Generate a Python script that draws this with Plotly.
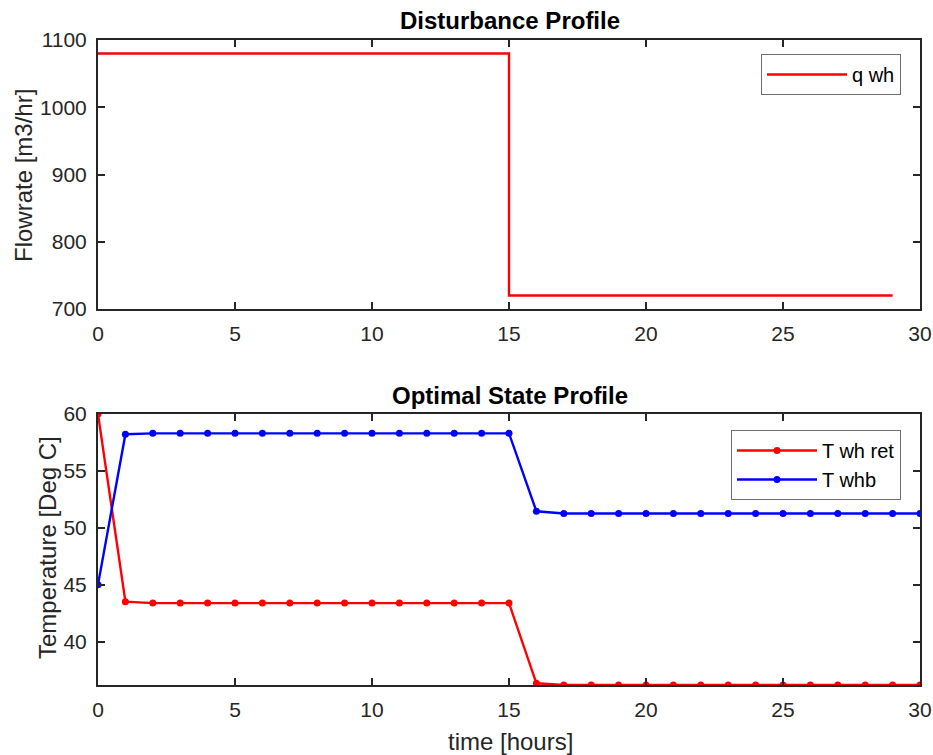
import plotly.graph_objects as go

# Disturbance: water flowrate step (stairs)
t_dist = list(range(0, 30))
q_wh = [1080] * 15 + [720] * 15

# Optimal state trajectories
t_state = list(range(0, 31))
T_wh_ret = [60.0, 43.5] + [43.38] * 14 + [36.33] + [36.18] * 14
T_whb = [45.0, 58.22] + [58.3] * 14 + [51.45] + [51.25] * 14

FONT = "Liberation Sans, Arial, sans-serif"
INK = "#262626"
W, H = 933, 755
ML, MR = 98, 13


def px_x(p):
    return (p - ML) / (W - ML - MR)


def px_y(p):
    return 1 - p / H


fig = go.Figure()

fig.add_trace(go.Scatter(
    x=t_dist, y=q_wh, mode="lines", line=dict(color="#ff0000", width=2.4, shape="hv"),
    name="q wh", xaxis="x", yaxis="y", legend="legend"))

fig.add_trace(go.Scatter(
    x=t_state, y=T_wh_ret, mode="lines+markers",
    line=dict(color="#ff0000", width=2.4), marker=dict(color="#ff0000", size=7),
    name="T wh ret", xaxis="x2", yaxis="y2", legend="legend2"))
fig.add_trace(go.Scatter(
    x=t_state, y=T_whb, mode="lines+markers",
    line=dict(color="#0000ff", width=2.4), marker=dict(color="#0000ff", size=7),
    name="T whb", xaxis="x2", yaxis="y2", legend="legend2"))

axis_common = dict(
    showline=True, linecolor=INK, linewidth=2, mirror="ticks",
    ticks="inside", ticklen=7, tickwidth=2, tickcolor=INK,
    showgrid=False, zeroline=False, ticklabelstandoff=5,
    tickfont=dict(family=FONT, size=21, color=INK),
)

legend_common = dict(
    xref="paper", yref="paper", xanchor="right", yanchor="top",
    bgcolor="white", bordercolor="#6e6e6e", borderwidth=1,
    font=dict(family=FONT, size=20, color="black"), itemwidth=80,
    tracegroupgap=0,
)

fig.update_layout(
    width=W, height=H,
    margin=dict(l=ML, r=MR, t=0, b=0, autoexpand=False),
    paper_bgcolor="white", plot_bgcolor="white",
    font=dict(family=FONT, color=INK),
    xaxis=dict(domain=[0, 1], range=[0, 30], tickvals=[0, 5, 10, 15, 20, 25, 30],
               anchor="y", **axis_common),
    yaxis=dict(domain=[px_y(309), px_y(40)], range=[700, 1100],
               tickvals=[700, 800, 900, 1000, 1100], anchor="x", **axis_common),
    xaxis2=dict(domain=[0, 1], range=[0, 30], tickvals=[0, 5, 10, 15, 20, 25, 30],
                anchor="y2", **axis_common),
    yaxis2=dict(domain=[px_y(685), px_y(414)], range=[36.18, 60],
                tickvals=[40, 45, 50, 55, 60], anchor="x2", **axis_common),
    legend=dict(x=px_x(901), y=px_y(54), **legend_common),
    legend2=dict(x=px_x(901), y=px_y(430), **legend_common),
    showlegend=True,
)

labels = [
    ("<b>Disturbance Profile</b>", 510, 20, 24, 0, "black"),
    ("<b>Optimal State Profile</b>", 510, 396, 24, 0, "black"),
    ("time [hours]", 510, 741, 24, 0, INK),
    ("Flowrate [m3/hr]", 23, 176, 24, -90, INK),
    ("Temperature [Deg C]", 47, 548, 24, -90, INK),
]
for text, x, y, size, angle, color in labels:
    fig.add_annotation(
        text=text, x=px_x(x), y=px_y(y), xref="paper", yref="paper",
        xanchor="center", yanchor="middle", showarrow=False, textangle=angle,
        font=dict(family=FONT, size=size, color=color))

fig.write_html("out.html")
